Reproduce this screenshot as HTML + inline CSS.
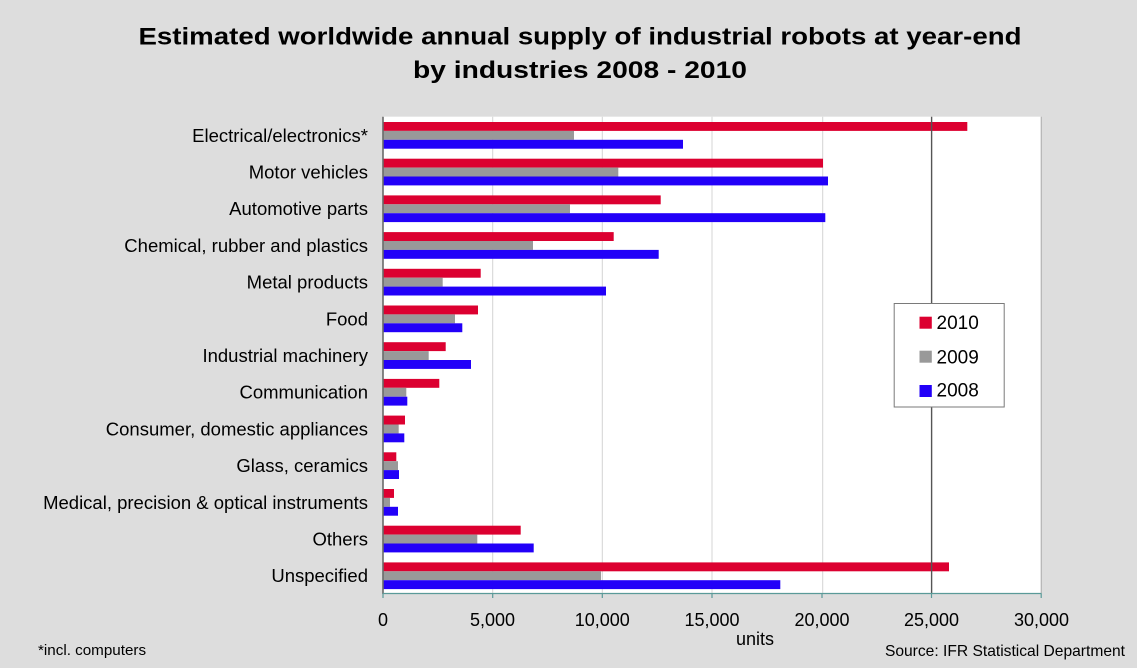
<!DOCTYPE html>
<html>
<head>
<meta charset="utf-8">
<style>
html,body{margin:0;padding:0;background:#dddddd;}
svg{display:block;}
text{font-family:"Liberation Sans",Arial,Helvetica,sans-serif;fill:#000;}
</style>
</head>
<body>
<svg width="1137" height="668" viewBox="0 0 1137 668" xmlns="http://www.w3.org/2000/svg">
<rect x="0" y="0" width="1137" height="668" fill="#dddddd"/>

<!-- Title -->
<text x="580" y="44.5" font-size="24" font-weight="bold" text-anchor="middle" textLength="883" lengthAdjust="spacingAndGlyphs">Estimated worldwide annual supply of industrial robots at year-end</text>
<text x="580" y="78" font-size="24" font-weight="bold" text-anchor="middle" textLength="334" lengthAdjust="spacingAndGlyphs">by industries 2008 - 2010</text>

<!-- Plot area -->
<rect x="383" y="116.7" width="658" height="476.8" fill="#ffffff"/>
<line x1="1041.2" y1="116.7" x2="1041.2" y2="593.5" stroke="#a8a8a8" stroke-width="1"/>

<!-- gridlines -->
<g stroke="#d4d4d4" stroke-width="1">
<line x1="492.7" y1="116.7" x2="492.7" y2="593.5"/>
<line x1="602.3" y1="116.7" x2="602.3" y2="593.5"/>
<line x1="712" y1="116.7" x2="712" y2="593.5"/>
<line x1="822.7" y1="116.7" x2="822.7" y2="593.5"/>
</g>

<!-- bars -->
<g>
<rect x="383" y="122" width="584.3" height="8.9" fill="#dc0030"/>
<rect x="383" y="130.9" width="191" height="8.9" fill="#999999"/>
<rect x="383" y="139.8" width="300" height="8.9" fill="#2200f8"/>
<rect x="383" y="158.7" width="440" height="8.9" fill="#dc0030"/>
<rect x="383" y="167.6" width="235.3" height="8.9" fill="#999999"/>
<rect x="383" y="176.5" width="445" height="8.9" fill="#2200f8"/>
<rect x="383" y="195.4" width="277.7" height="8.9" fill="#dc0030"/>
<rect x="383" y="204.3" width="187" height="8.9" fill="#999999"/>
<rect x="383" y="213.2" width="442.3" height="8.9" fill="#2200f8"/>
<rect x="383" y="232.1" width="230.7" height="8.9" fill="#dc0030"/>
<rect x="383" y="241" width="150" height="8.9" fill="#999999"/>
<rect x="383" y="249.9" width="275.7" height="8.9" fill="#2200f8"/>
<rect x="383" y="268.8" width="97.7" height="8.9" fill="#dc0030"/>
<rect x="383" y="277.7" width="59.7" height="8.9" fill="#999999"/>
<rect x="383" y="286.6" width="223" height="8.9" fill="#2200f8"/>
<rect x="383" y="305.5" width="95" height="8.9" fill="#dc0030"/>
<rect x="383" y="314.4" width="72" height="8.9" fill="#999999"/>
<rect x="383" y="323.3" width="79.3" height="8.9" fill="#2200f8"/>
<rect x="383" y="342.2" width="62.7" height="8.9" fill="#dc0030"/>
<rect x="383" y="351.1" width="45.7" height="8.9" fill="#999999"/>
<rect x="383" y="360" width="88" height="8.9" fill="#2200f8"/>
<rect x="383" y="378.9" width="56.3" height="8.9" fill="#dc0030"/>
<rect x="383" y="387.8" width="23.3" height="8.9" fill="#999999"/>
<rect x="383" y="396.7" width="24.3" height="8.9" fill="#2200f8"/>
<rect x="383" y="415.6" width="22" height="8.9" fill="#dc0030"/>
<rect x="383" y="424.5" width="15.7" height="8.9" fill="#999999"/>
<rect x="383" y="433.4" width="21.3" height="8.9" fill="#2200f8"/>
<rect x="383" y="452.3" width="13.3" height="8.9" fill="#dc0030"/>
<rect x="383" y="461.2" width="15" height="8.9" fill="#999999"/>
<rect x="383" y="470.1" width="16" height="8.9" fill="#2200f8"/>
<rect x="383" y="489" width="11" height="8.9" fill="#dc0030"/>
<rect x="383" y="497.9" width="7" height="8.9" fill="#999999"/>
<rect x="383" y="506.8" width="15" height="8.9" fill="#2200f8"/>
<rect x="383" y="525.7" width="137.7" height="8.9" fill="#dc0030"/>
<rect x="383" y="534.6" width="94.3" height="8.9" fill="#999999"/>
<rect x="383" y="543.5" width="150.7" height="8.9" fill="#2200f8"/>
<rect x="383" y="562.4" width="566" height="8.9" fill="#dc0030"/>
<rect x="383" y="571.3" width="218" height="8.9" fill="#999999"/>
<rect x="383" y="580.2" width="397.3" height="8.9" fill="#2200f8"/>
</g>

<!-- 25000 line -->
<line x1="931.6" y1="116.7" x2="931.6" y2="593.5" stroke="#555555" stroke-width="1.4"/>

<!-- axes -->
<line x1="383" y1="116.7" x2="383" y2="594" stroke="#6a6a6a" stroke-width="1.6"/>
<line x1="383" y1="593.5" x2="1041.5" y2="593.5" stroke="#5a9a98" stroke-width="1.2"/>
<g stroke="#5a9a98" stroke-width="1.2">
<line x1="383" y1="593.5" x2="383" y2="598"/>
<line x1="492.7" y1="593.5" x2="492.7" y2="598"/>
<line x1="602.3" y1="593.5" x2="602.3" y2="598"/>
<line x1="712" y1="593.5" x2="712" y2="598"/>
<line x1="822" y1="593.5" x2="822" y2="598"/>
<line x1="931.5" y1="593.5" x2="931.5" y2="598"/>
<line x1="1041.2" y1="593.5" x2="1041.2" y2="598"/>
</g>

<!-- tick labels -->
<g font-size="18" text-anchor="middle">
<text x="383" y="626">0</text>
<text x="492.5" y="626">5,000</text>
<text x="602.3" y="626">10,000</text>
<text x="712" y="626">15,000</text>
<text x="822" y="626">20,000</text>
<text x="931.5" y="626">25,000</text>
<text x="1041.5" y="626">30,000</text>
</g>
<text x="755" y="645" font-size="18" text-anchor="middle">units</text>

<!-- category labels -->
<g font-size="18.5" text-anchor="end">
<text x="368" y="141.8">Electrical/electronics*</text>
<text x="368" y="178.5">Motor vehicles</text>
<text x="368" y="215.2">Automotive parts</text>
<text x="368" y="251.9">Chemical, rubber and plastics</text>
<text x="368" y="288.6">Metal products</text>
<text x="368" y="325.3">Food</text>
<text x="368" y="362">Industrial machinery</text>
<text x="368" y="398.7">Communication</text>
<text x="368" y="435.4">Consumer, domestic appliances</text>
<text x="368" y="472.1">Glass, ceramics</text>
<text x="368" y="508.8">Medical, precision &amp; optical instruments</text>
<text x="368" y="545.5">Others</text>
<text x="368" y="582.2">Unspecified</text>
</g>

<!-- legend -->
<rect x="894.2" y="303.5" width="110" height="103.5" fill="#ffffff" stroke="#7a7a7a" stroke-width="1"/>
<rect x="919.5" y="316.7" width="12.3" height="12" fill="#dc0030"/>
<rect x="919.5" y="350.7" width="12.3" height="12" fill="#999999"/>
<rect x="919.5" y="385" width="12.3" height="12" fill="#2200f8"/>
<g font-size="19">
<text x="936.5" y="329">2010</text>
<text x="936.5" y="363.3">2009</text>
<text x="936.5" y="396.7">2008</text>
</g>

<!-- footnotes -->
<text x="38" y="655" font-size="15.2">*incl. computers</text>
<text x="1125" y="656" font-size="15.6" text-anchor="end">Source: IFR Statistical Department</text>
</svg>
</body>
</html>
